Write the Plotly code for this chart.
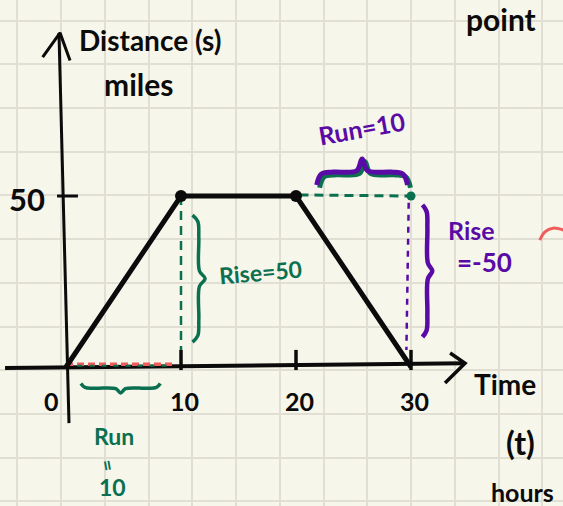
import plotly.graph_objects as go

# Distance-time trip: out, rest, back
time_h = [0, 10, 20, 30]
distance_mi = [0, 50, 50, 0]
x_ticks = [0, 10, 20, 30]
y_ticks = [50]

rise_up = distance_mi[1] - distance_mi[0]
run_up = time_h[1] - time_h[0]
rise_down = distance_mi[3] - distance_mi[2]
run_down = time_h[3] - time_h[2]

INK = "#0b0b0b"
GREEN = "#0a7050"
PURPLE = "#5a0ba6"
RED = "#f05c5c"
PAPER = "#f7f6ea"
GRID = "#e1dfd3"
FONT = "Lato"

fig = go.Figure()


def line(x, y, color, width, dash="solid", shape="linear"):
    fig.add_trace(go.Scatter(x=x, y=y, mode="lines", hoverinfo="skip",
                             line=dict(color=color, width=width, dash=dash, shape=shape)))


def brace(a, b, base, depth, vertical):
    """Curly brace spanning a..b along one axis, tip pointing by depth."""
    u = [0, 0.05, 0.18, 0.44, 0.5, 0.56, 0.82, 0.95, 1]
    v = [0, 0.42, 0.5, 0.55, 1, 0.55, 0.5, 0.42, 0]
    along = [a + (b - a) * k for k in u]
    across = [base + depth * k for k in v]
    return (across, along) if vertical else (along, across)


# axes with open arrow heads
line([-0.61, 0.26], [97.7, -16.4], INK, 3)
line([-2.03, -0.52, 0.35], [90.6, 97.7, 89.6], INK, 3)
line([-5.3, 34.7], [-0.3, 1.1], INK, 4)
line([33.4, 34.7, 32.96], [4.1, 1.1, -4.7], INK, 3.5)

# tick marks
for v in y_ticks:
    line([-0.78, 1.04], [v, v], INK, 3)
for v in x_ticks[1:]:
    line([v, v], [-0.9, 5], INK, 3.5)

# helper lines for rise / run
line([time_h[1], time_h[1]], [distance_mi[1], 5], GREEN, 2.5, dash="9px,6px")
line([time_h[2] + 0.3, time_h[3]], [distance_mi[2] + 0.3, distance_mi[3] + 50], GREEN, 3, dash="9px,6px")
line([time_h[3] - 0.2, time_h[3] - 0.4], [distance_mi[2] - 2, 5], PURPLE, 2.5, dash="6px,6px")
line([time_h[0], run_up - 0.5], [0.8, 0.8], RED, 3.5, dash="7px,4px")
line([time_h[0] + 1, run_up - 1], [0.4, 0.4], GREEN, 2, dash="5px,7px")
fig.add_trace(go.Scatter(x=[time_h[3]], y=[distance_mi[2]], mode="markers", hoverinfo="skip",
                         marker=dict(color=GREEN, size=9)))

# braces
bx, by = brace(distance_mi[1] - 5.6, distance_mi[0] + 7.3, time_h[1] + 1.0, 1.1, True)
line(bx, by, GREEN, 3.5, shape="spline")
bx, by = brace(distance_mi[2] - 2.6, distance_mi[3] + 8.8, time_h[3] + 1.0, 0.85, True)
line(bx, by, PURPLE, 4.5, shape="spline")
bx, by = brace(time_h[2] + 1.8, time_h[3] - 0.3, distance_mi[2] + 3.2, 7.6, False)
line([x + 0.25 for x in bx], [y - 0.8 for y in by], GREEN, 5, shape="spline")
line(bx, by, PURPLE, 5, shape="spline")
bx, by = brace(time_h[0] + 1.3, run_up - 1.8, -4.8, -2.8, False)
line(bx, by, GREEN, 3.5, shape="spline")

# stray red pen mark
line([41.2, 41.65, 42.35, 43.3], [37.1, 39.5, 40.6, 40.0], RED, 3, shape="spline")

# the trip itself
fig.add_trace(go.Scatter(x=time_h, y=distance_mi, mode="lines", hoverinfo="skip",
                         line=dict(color=INK, width=5)))
fig.add_trace(go.Scatter(x=time_h[1:3], y=distance_mi[1:3], mode="markers", hoverinfo="skip",
                         marker=dict(color=INK, size=12)))

ann = []


def text(x, y, s, size, color=INK, angle=0, xanchor="center"):
    ann.append(dict(x=x, y=y, xref="x", yref="y", text=s, showarrow=False,
                    textangle=angle, xanchor=xanchor, yanchor="middle",
                    font=dict(family=FONT, size=size, color=color, weight="bold")))


for v in x_ticks:
    text(v + (-1.3 if v == 0 else 0.3), -10, str(v), 25)
for v in y_ticks:
    text(-3.4, v - 0.8, str(v), 31)

text(7.3, 95.6, "Distance (s)", 28)
text(6.3, 82.7, "miles", 30)
text(38.2, -5.0, "Time", 28)
text(39.5, -22.2, "(t)", 32)
text(39.7, -36.5, "hours", 25)

text(25.7, 69.9, f"Run={run_down}", 25, PURPLE, angle=-10)
text(16.9, 27.8, f"Rise={rise_up}", 23, GREEN, angle=-5)
text(35.3, 40.1, "Rise", 25, PURPLE)
text(36.4, 30.7, f"={rise_down}", 26, PURPLE)
text(4.2, -20.2, "Run", 23, GREEN)
text(3.7, -28.7, "=", 20, GREEN, angle=80)
text(4.0, -35.2, str(run_up), 23, GREEN)

# words along the top edge
text(37.8, 101.8, "point", 30)

fig.update_layout(
    width=563, height=506,
    margin=dict(l=0, r=0, t=0, b=0),
    paper_bgcolor=PAPER, plot_bgcolor=PAPER,
    showlegend=False, hovermode=False,
    annotations=ann,
    xaxis=dict(range=[-5.739, 43.217], showticklabels=False, zeroline=False,
               showgrid=True, gridcolor=GRID, gridwidth=2,
               tick0=-4.235, dtick=3.804, fixedrange=True),
    yaxis=dict(range=[-40.64, 107.31], showticklabels=False, zeroline=False,
               showgrid=True, gridcolor=GRID, gridwidth=2,
               tick0=-0.96, dtick=12.78, fixedrange=True),
)

fig.write_html("out.html")
